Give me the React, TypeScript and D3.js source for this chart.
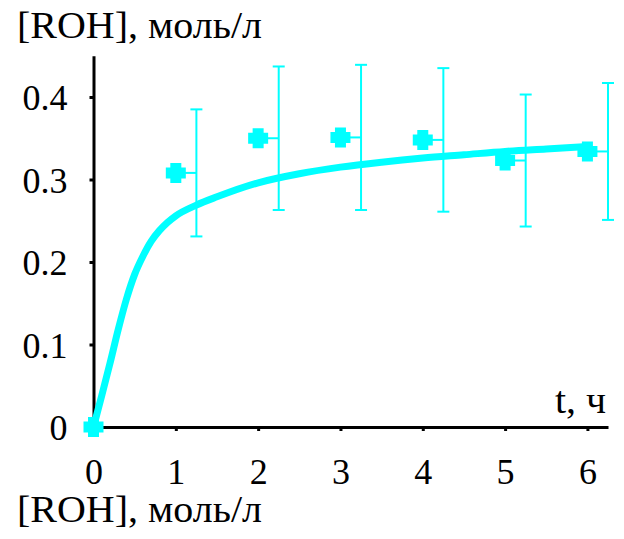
import React, { useEffect, useRef } from "react";
import * as d3 from "d3";

// measured points (t, h) and error half-widths
const tPoints = [0, 1, 2, 3, 4, 5, 6];
const rohPoints = [0, 0.308, 0.35, 0.351, 0.348, 0.323, 0.334];
const rohErr = [0, 0.077, 0.087, 0.088, 0.087, 0.08, 0.083];

// model curve
const tCurve = [0, 0.1, 0.2, 0.3, 0.4, 0.5, 0.6, 0.7, 0.8, 0.9, 1.0, 1.25, 1.5, 2, 2.5, 3, 3.5, 4, 4.5, 5, 5.5, 6];
const rohCurve = [0, 0.038, 0.077, 0.118, 0.155, 0.185, 0.207, 0.225, 0.238, 0.248, 0.256, 0.269, 0.279, 0.296, 0.307, 0.315, 0.321, 0.326, 0.330, 0.334, 0.337, 0.340];

const xTicks = [0, 1, 2, 3, 4, 5, 6];
const yTicks = [0, 0.1, 0.2, 0.3, 0.4];

const W = 624, H = 539;
const CYAN = "#00FFFF";
const FONT = "Liberation Serif, DejaVu Serif, serif";

export default function App() {
  const xAxisRef = useRef<SVGGElement>(null);
  const yAxisRef = useRef<SVGGElement>(null);

  const x = d3.scaleLinear().domain([0, 6.25]).range([93.5, 608]);
  const y = d3.scaleLinear().domain([0, 0.45]).range([427, 55.75]);

  useEffect(() => {
    const xa = d3.select(xAxisRef.current!);
    xa.call(d3.axisBottom(x).tickValues(xTicks).tickSize(4).tickSizeOuter(0).tickPadding(27).tickFormat(d3.format("d")) as any);
    xa.attr("font-family", FONT).attr("font-size", 36);
    xa.select(".domain").attr("stroke-width", 3);
    xa.selectAll(".tick line").attr("stroke-width", 3);
    xa.selectAll("text").attr("fill", "#000");

    const ya = d3.select(yAxisRef.current!);
    ya.call(d3.axisLeft(y).tickValues(yTicks).tickSize(4).tickSizeOuter(0).tickPadding(22).tickFormat((d: any) => (d === 0 ? "0" : d3.format(".1f")(d))) as any);
    ya.attr("font-family", FONT).attr("font-size", 36);
    ya.select(".domain").attr("stroke-width", 3);
    ya.selectAll(".tick line").attr("stroke-width", 3);
    ya.selectAll("text").attr("fill", "#000").attr("dy", "0.36em");
  }, []);

  const line = d3.line<number>()
    .x((d, i) => x(tCurve[i]))
    .y((d) => y(d))
    .curve(d3.curveMonotoneX);

  // fat plus marker
  const a = 5.5, b = 10;
  const cross = `M${-a},${-b}H${a}V${-a}H${b}V${a}H${a}V${b}H${-a}V${a}H${-b}V${-a}H${-a}Z`;
  const off = 0.25;

  return (
    <div style={{ position: "absolute", left: 0, top: 0 }}>
      <svg width={W} height={H} style={{ display: "block", background: "#fff", fontFamily: FONT }}>
        <text x={17} y={38} fontSize={37} fontFamily={FONT} textLength={245} lengthAdjust="spacingAndGlyphs">[ROH], моль/л</text>
        <text x={17} y={522} fontSize={37} fontFamily={FONT} textLength={245} lengthAdjust="spacingAndGlyphs">[ROH], моль/л</text>
        <text x={555} y={413} fontSize={37} fontFamily={FONT} textLength={51} lengthAdjust="spacingAndGlyphs">t, ч</text>

        <g ref={xAxisRef} transform={`translate(0,${y(0)})`} />
        <g ref={yAxisRef} transform={`translate(${x(0)},0)`} />

        <path d={line(rohCurve) || ""} fill="none" stroke={CYAN} strokeWidth={7} />

        {tPoints.map((t, i) => {
          if (rohErr[i] === 0) return null;
          const xe = x(t + off);
          return (
            <g key={"e" + i} stroke={CYAN} strokeWidth={2}>
              <line x1={x(t)} x2={xe} y1={y(rohPoints[i])} y2={y(rohPoints[i])} />
              <line x1={xe} x2={xe} y1={y(rohPoints[i] - rohErr[i])} y2={y(rohPoints[i] + rohErr[i])} />
              <line x1={xe - 6} x2={xe + 6} y1={y(rohPoints[i] + rohErr[i])} y2={y(rohPoints[i] + rohErr[i])} />
              <line x1={xe - 6} x2={xe + 6} y1={y(rohPoints[i] - rohErr[i])} y2={y(rohPoints[i] - rohErr[i])} />
            </g>
          );
        })}

        {tPoints.map((t, i) => (
          <path key={"p" + i} d={cross} fill={CYAN} transform={`translate(${x(t)},${y(rohPoints[i])})`} />
        ))}
      </svg>
    </div>
  );
}
